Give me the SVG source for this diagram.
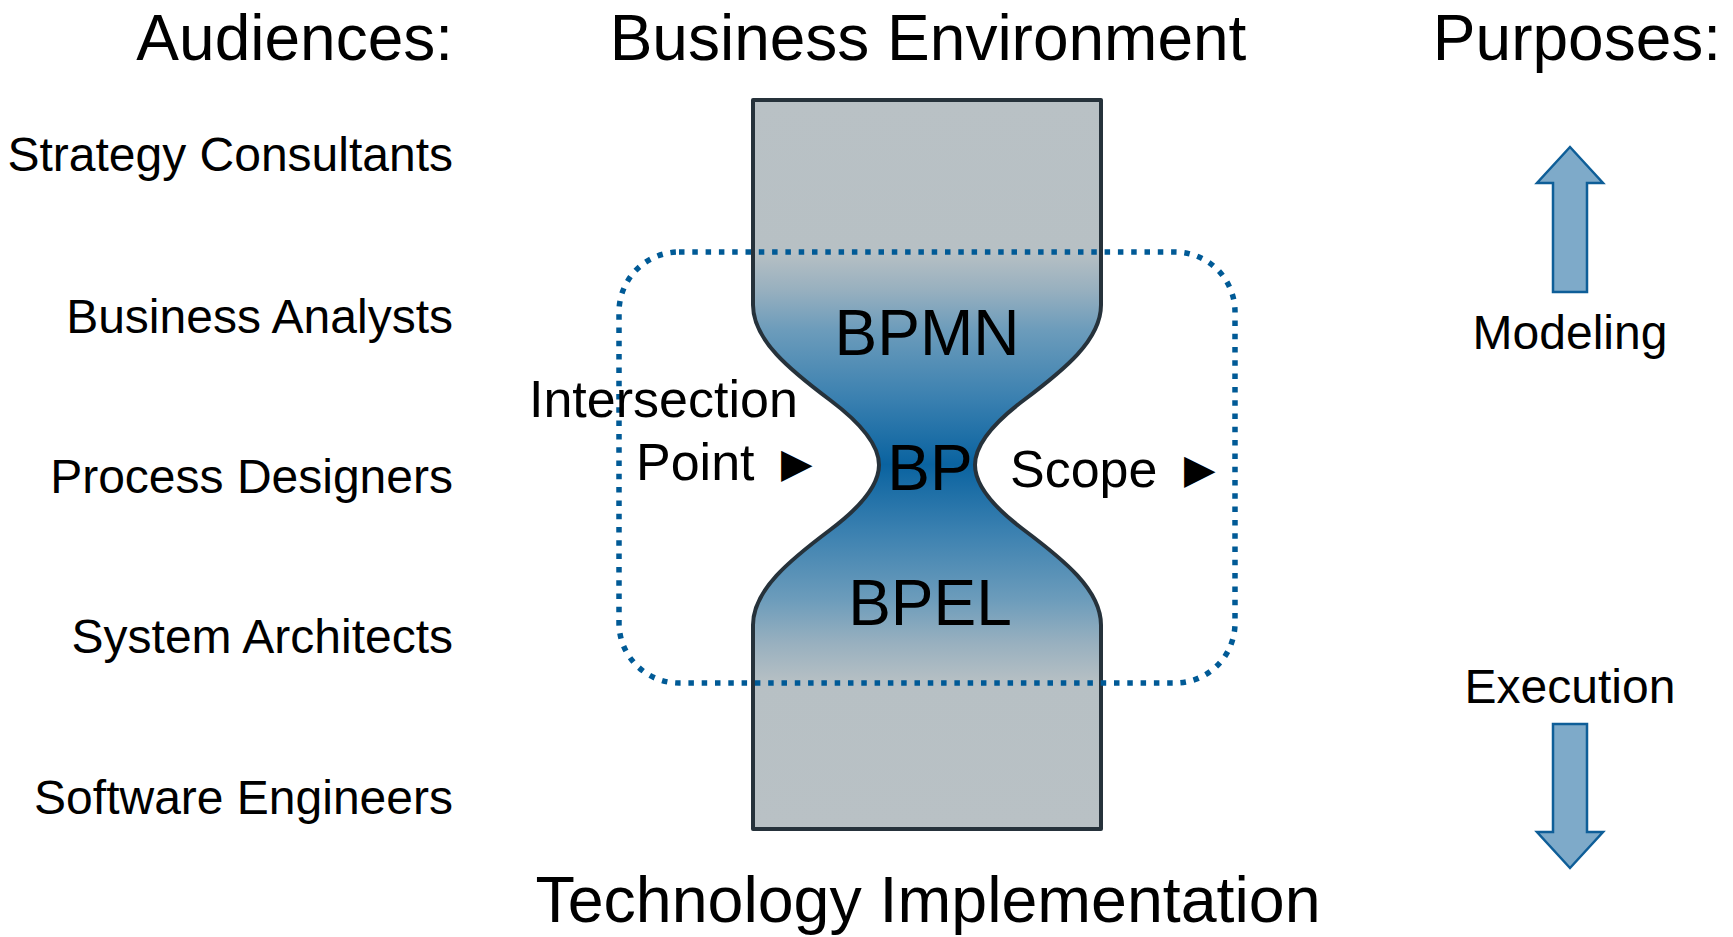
<svg xmlns="http://www.w3.org/2000/svg" width="1733" height="937" viewBox="0 0 1733 937">
  <defs>
    <style>
      text { font-family: "Liberation Sans", Arial, sans-serif; fill: #000000; }
      .title { font-size: 64px; }
      .aud { font-size: 48px; text-anchor: end; }
      .purp { font-size: 48px; text-anchor: middle; }
      .inner { font-size: 64px; text-anchor: middle; }
      .side { font-size: 52px; }
      .tri { font-family: "DejaVu Sans", sans-serif; font-size: 41px; }
      .blockarrow { fill: #7eaac9; stroke: #0e5e98; stroke-width: 2.5; stroke-linejoin: miter; }
      .scope { fill: none; stroke: #005a96; stroke-width: 5.5; stroke-dasharray: 5.5 7.8; }
    </style>
    <linearGradient id="hgGrad" gradientUnits="userSpaceOnUse" x1="0" y1="100" x2="0" y2="829">
      <stop offset="0" stop-color="#b9c1c5"/>
      <stop offset="0.2085" stop-color="#b7c0c4"/>
      <stop offset="0.26" stop-color="#98b0bf"/>
      <stop offset="0.3155" stop-color="#6c9cbb"/>
      <stop offset="0.41" stop-color="#3a80b0"/>
      <stop offset="0.5" stop-color="#0a63a0"/>
      <stop offset="0.59" stop-color="#3a80b0"/>
      <stop offset="0.685" stop-color="#6c9cbb"/>
      <stop offset="0.745" stop-color="#98b0bf"/>
      <stop offset="0.7997" stop-color="#b7c0c4"/>
      <stop offset="1" stop-color="#b9c1c5"/>
    </linearGradient>
  </defs>
  <rect width="1733" height="937" fill="#ffffff"/>

  <g id="hourglass">
    <path d="M753,100 L1101,100 L1101,305 C1101,340 1064,370 1024,400 C984,430 975,450 975,465 C975,480 984,500 1024,530 C1064,560 1101,590 1101,625 L1101,829 L753,829 L753,625 C753,590 790,560 830,530 C870,500 879,480 879,465 C879,450 870,430 830,400 C790,370 753,340 753,305 Z" fill="url(#hgGrad)" stroke="#26323b" stroke-width="4" stroke-linejoin="round"/>
  </g>

  <g id="scope-boundary">
    <rect class="scope" x="619" y="252" width="616" height="431" rx="60" ry="60"/>
  </g>

  <g id="headers">
    <text class="title" x="453" y="60" text-anchor="end">Audiences:</text>
    <text class="title" x="928" y="60" text-anchor="middle">Business Environment</text>
    <text class="title" x="1721" y="60" text-anchor="end">Purposes:</text>
    <text class="title" x="928" y="922" text-anchor="middle" style="font-size:64.5px">Technology Implementation</text>
  </g>

  <g id="audiences">
    <text class="aud" x="453" y="171">Strategy Consultants</text>
    <text class="aud" x="453" y="333">Business Analysts</text>
    <text class="aud" x="453" y="493">Process Designers</text>
    <text class="aud" x="453" y="653">System Architects</text>
    <text class="aud" x="453" y="814">Software Engineers</text>
  </g>

  <g id="layers">
    <text class="inner" x="927" y="355">BPMN</text>
    <text class="inner" x="930" y="490">BP</text>
    <text class="inner" x="930" y="625">BPEL</text>
  </g>

  <g id="intersection-label">
    <text class="side" x="529" y="417">Intersection</text>
    <text class="side" x="636" y="480">Point</text>
    <text class="tri" x="781" y="477">▶</text>
  </g>

  <g id="scope-label">
    <text class="side" x="1010" y="487">Scope</text>
    <text class="tri" x="1184" y="483">▶</text>
  </g>

  <g id="modeling">
    <polygon class="blockarrow" points="1570,147 1603,183 1587,183 1587,292 1553,292 1553,183 1537,183"/>
    <text class="purp" x="1570" y="349">Modeling</text>
  </g>

  <g id="execution">
    <text class="purp" x="1570" y="703">Execution</text>
    <polygon class="blockarrow" points="1553,724 1587,724 1587,832 1603,832 1570,868 1537,832 1553,832"/>
  </g>

  <g id="connectors"></g>
</svg>
